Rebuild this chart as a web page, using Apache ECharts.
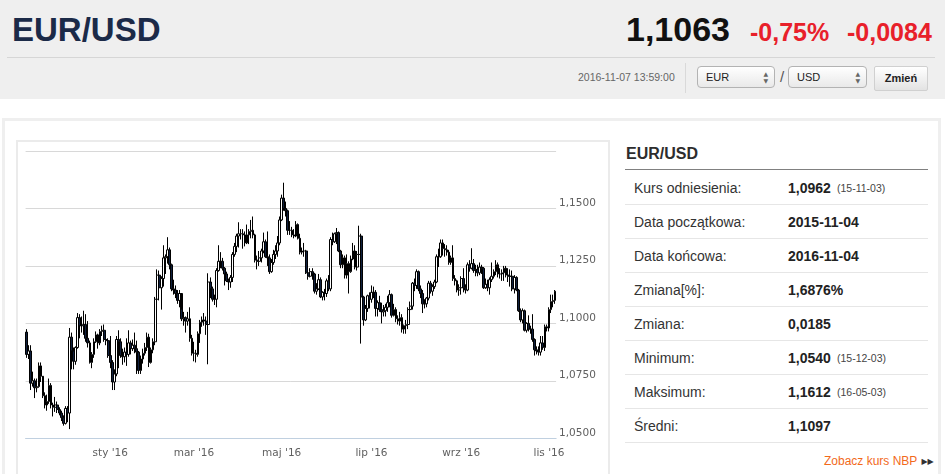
<!DOCTYPE html>
<html>
<head>
<meta charset="utf-8">
<title>EUR/USD</title>
<script src="https://cdn.jsdelivr.net/npm/echarts@6/dist/echarts.min.js"></script>
<style>
html, body { margin:0; padding:0; }
body { width:945px; height:474px; overflow:hidden; position:relative; background:#fff; font-family:"Liberation Sans", Arial, sans-serif; }
.abs { position:absolute; white-space:nowrap; }
.top { left:0; top:0; width:945px; height:99px; background:#efefef; }
.title { left:12px; top:13px; font-size:33px; line-height:33px; font-weight:bold; color:#1b2a48; }
.rate { left:626px; top:12px; font-size:34px; line-height:34px; font-weight:bold; color:#111; }
.chg { top:20px; font-size:25px; line-height:25px; font-weight:bold; color:#e8202a; }
.sep { left:7px; top:57px; width:928px; height:1px; background:#d6d6d6; }
.stamp { left:578px; top:72px; font-size:10.5px; line-height:11px; color:#666; }
.vsep { left:685px; top:63px; width:1px; height:30px; background:#d9d9d9; }
.sel { top:66px; height:22px; box-sizing:border-box; border:1px solid #b3b3b3; border-radius:4px;
       background:linear-gradient(#ffffff,#e9e9e9); font-size:11px; line-height:20px; padding-left:8px; color:#222; }
.sel .arr { position:absolute; right:6px; top:3px; font-family:"DejaVu Sans"; font-size:6px; line-height:7px; color:#666; }
.slash { left:780px; top:68px; font-size:15px; color:#555; }
.btn { left:874px; top:66px; width:54px; height:25px; box-sizing:border-box; border:1px solid #d0d0d0; border-radius:2px;
       background:linear-gradient(#ffffff,#e3e3e3); font-size:11px; line-height:23px; font-weight:bold; text-align:center; color:#222; }
.panel { left:2px; top:118px; width:939px; height:400px; box-sizing:border-box; border:3px solid #efefef; }
.cbox { left:16px; top:140px; width:594px; height:360px; box-sizing:border-box; border:2px solid #ebebeb; }
#chart { position:absolute; left:18px; top:142px; width:590px; height:332px; }
.h2 { left:626px; top:146px; font-size:16px; line-height:16px; font-weight:bold; color:#2d2d2d; }
.hline { left:625px; top:169px; width:303px; height:1px; background:#808080; }
#stats { position:absolute; left:625px; top:171px; width:303px; }
.row { position:relative; height:34px; box-sizing:border-box; border-bottom:1px solid #e6e6e6; padding-top:2px; line-height:31px; font-size:14px; color:#333; }
.row span { position:absolute; top:2px; }
.row .v { left:163px; font-weight:bold; color:#222; }
.row .d { left:212px; font-size:10.5px; color:#444; }
.nbp { left:824px; top:454px; font-size:12px; line-height:14px; color:#f26a1b; }
.nbp b { font-family:"DejaVu Sans"; font-size:8px; color:#333; margin-left:4px; vertical-align:1px; }
</style>
</head>
<body>
<div class="abs top"></div>
<div class="abs title">EUR/USD</div>
<div class="abs rate">1,1063</div>
<div class="abs chg" style="left:750px">-0,75%</div>
<div class="abs chg" style="left:847px">-0,0084</div>
<div class="abs sep"></div>
<div class="abs stamp">2016-11-07 13:59:00</div>
<div class="abs vsep"></div>
<div class="abs sel" style="left:697px;width:78px">EUR<span class="arr">▲<br>▼</span></div>
<div class="abs slash">/</div>
<div class="abs sel" style="left:788px;width:79px">USD<span class="arr">▲<br>▼</span></div>
<div class="abs btn">Zmień</div>

<div class="abs panel"></div>
<div class="abs cbox"></div>
<div id="chart"></div>

<div class="abs h2">EUR/USD</div>
<div class="abs hline"></div>
<div id="stats"></div>
<div class="abs nbp">Zobacz kurs NBP<b>▶▶</b></div>

<script>
// rows: [day, open, close, low, high]
const nov15 = [
  [4, 1.0962, 1.0865, 1.0850, 1.0975], [5, 1.0865, 1.0880, 1.0845, 1.0905], [6, 1.0880, 1.0740, 1.0710, 1.0905],
  [9, 1.0740, 1.0750, 1.0725, 1.0790], [10, 1.0750, 1.0720, 1.0675, 1.0760], [11, 1.0720, 1.0725, 1.0700, 1.0760],
  [12, 1.0725, 1.0815, 1.0720, 1.0830], [13, 1.0815, 1.0770, 1.0745, 1.0830], [16, 1.0770, 1.0685, 1.0675, 1.0735],
  [17, 1.0685, 1.0645, 1.0630, 1.0700], [18, 1.0645, 1.0660, 1.0620, 1.0690], [19, 1.0660, 1.0730, 1.0650, 1.0760],
  [20, 1.0730, 1.0645, 1.0630, 1.0740], [23, 1.0645, 1.0635, 1.0595, 1.0655], [24, 1.0635, 1.0645, 1.0615, 1.0680],
  [25, 1.0645, 1.0625, 1.0610, 1.0660], [26, 1.0625, 1.0610, 1.0600, 1.0635], [27, 1.0610, 1.0590, 1.0575, 1.0620],
  [30, 1.0590, 1.0565, 1.0555, 1.0600]
];
const dec15 = [
  [1, 1.0565, 1.0630, 1.0560, 1.0640], [2, 1.0630, 1.0610, 1.0570, 1.0640], [3, 1.0610, 1.0940, 1.0540, 1.0980],
  [4, 1.0940, 1.0880, 1.0800, 1.0960], [7, 1.0880, 1.0835, 1.0800, 1.0895], [8, 1.0835, 1.0895, 1.0820, 1.0900],
  [9, 1.0895, 1.1025, 1.0890, 1.1045], [10, 1.1025, 1.0990, 1.0935, 1.1040], [11, 1.0990, 1.0990, 1.0960, 1.1030],
  [14, 1.0990, 1.0995, 1.0950, 1.1055], [15, 1.0995, 1.0935, 1.0920, 1.1040], [16, 1.0935, 1.0915, 1.0895, 1.1010],
  [17, 1.0915, 1.0830, 1.0825, 1.0925], [18, 1.0830, 1.0865, 1.0805, 1.0875], [21, 1.0865, 1.0920, 1.0850, 1.0935],
  [22, 1.0920, 1.0950, 1.0915, 1.0965], [23, 1.0950, 1.0915, 1.0890, 1.0955], [24, 1.0915, 1.0965, 1.0905, 1.0975],
  [28, 1.0965, 1.0970, 1.0945, 1.0990], [29, 1.0970, 1.0930, 1.0920, 1.0995], [30, 1.0930, 1.0925, 1.0905, 1.0945],
  [31, 1.0925, 1.0860, 1.0850, 1.0935]
];
const jan16 = [
  [4, 1.0860, 1.0830, 1.0805, 1.0945], [5, 1.0830, 1.0745, 1.0710, 1.0840], [6, 1.0745, 1.0780, 1.0710, 1.0800],
  [7, 1.0780, 1.0930, 1.0770, 1.0945], [8, 1.0930, 1.0920, 1.0805, 1.0970], [11, 1.0920, 1.0860, 1.0850, 1.0935],
  [12, 1.0860, 1.0855, 1.0820, 1.0890], [13, 1.0855, 1.0875, 1.0830, 1.0895], [14, 1.0875, 1.0865, 1.0815, 1.0935],
  [15, 1.0865, 1.0915, 1.0855, 1.0970], [18, 1.0915, 1.0890, 1.0865, 1.0925], [19, 1.0890, 1.0905, 1.0880, 1.0930],
  [20, 1.0905, 1.0890, 1.0870, 1.0960], [21, 1.0890, 1.0875, 1.0780, 1.0925], [22, 1.0875, 1.0795, 1.0780, 1.0880],
  [25, 1.0795, 1.0845, 1.0780, 1.0860], [26, 1.0845, 1.0870, 1.0825, 1.0890], [27, 1.0870, 1.0895, 1.0860, 1.0915],
  [28, 1.0895, 1.0940, 1.0880, 1.0960], [29, 1.0940, 1.0830, 1.0810, 1.0955]
];
const feb16 = [
  [1, 1.0830, 1.0885, 1.0825, 1.0895], [2, 1.0885, 1.0920, 1.0870, 1.0935], [3, 1.0920, 1.1105, 1.0905, 1.1115],
  [4, 1.1105, 1.1210, 1.1080, 1.1235], [5, 1.1210, 1.1155, 1.1100, 1.1230], [8, 1.1155, 1.1195, 1.1060, 1.1205],
  [9, 1.1195, 1.1285, 1.1160, 1.1340], [10, 1.1285, 1.1290, 1.1215, 1.1300], [11, 1.1290, 1.1320, 1.1260, 1.1375],
  [12, 1.1320, 1.1255, 1.1235, 1.1330], [15, 1.1255, 1.1150, 1.1140, 1.1260], [16, 1.1150, 1.1145, 1.1125, 1.1190],
  [17, 1.1145, 1.1130, 1.1110, 1.1165], [18, 1.1130, 1.1100, 1.1085, 1.1145], [19, 1.1100, 1.1130, 1.1070, 1.1145],
  [22, 1.1130, 1.1020, 1.1010, 1.1060], [23, 1.1020, 1.1025, 1.0990, 1.1050], [24, 1.1025, 1.1010, 1.0960, 1.1030],
  [25, 1.1010, 1.1020, 1.0990, 1.1050], [26, 1.1020, 1.0935, 1.0920, 1.1070], [29, 1.0935, 1.0870, 1.0860, 1.0950]
];
const mar16 = [
  [1, 1.0870, 1.0870, 1.0835, 1.0920], [2, 1.0870, 1.0865, 1.0830, 1.0885], [3, 1.0865, 1.0955, 1.0855, 1.0965],
  [4, 1.0955, 1.1005, 1.0915, 1.1015], [7, 1.1005, 1.1015, 1.0985, 1.1030], [8, 1.1015, 1.1010, 1.0990, 1.1045],
  [9, 1.1010, 1.0995, 1.0950, 1.1030], [10, 1.0995, 1.1180, 1.0822, 1.1218], [11, 1.1180, 1.1150, 1.1110, 1.1200],
  [14, 1.1150, 1.1105, 1.1095, 1.1160], [15, 1.1105, 1.1105, 1.1080, 1.1125], [16, 1.1105, 1.1230, 1.1070, 1.1240],
  [17, 1.1230, 1.1270, 1.1225, 1.1340], [18, 1.1270, 1.1270, 1.1240, 1.1310], [21, 1.1270, 1.1240, 1.1230, 1.1285],
  [22, 1.1240, 1.1215, 1.1165, 1.1245], [23, 1.1215, 1.1185, 1.1180, 1.1225], [24, 1.1185, 1.1180, 1.1145, 1.1195],
  [28, 1.1180, 1.1200, 1.1155, 1.1210], [29, 1.1200, 1.1300, 1.1180, 1.1310], [30, 1.1300, 1.1335, 1.1290, 1.1350],
  [31, 1.1335, 1.1380, 1.1310, 1.1390]
];
const apr16 = [
  [1, 1.1380, 1.1390, 1.1330, 1.1440], [4, 1.1390, 1.1390, 1.1365, 1.1410], [5, 1.1390, 1.1385, 1.1325, 1.1410],
  [6, 1.1385, 1.1350, 1.1335, 1.1400], [7, 1.1350, 1.1385, 1.1345, 1.1430], [8, 1.1385, 1.1400, 1.1345, 1.1410],
  [11, 1.1400, 1.1405, 1.1370, 1.1450], [12, 1.1405, 1.1385, 1.1370, 1.1465], [13, 1.1385, 1.1275, 1.1265, 1.1390],
  [14, 1.1275, 1.1270, 1.1235, 1.1295], [15, 1.1270, 1.1285, 1.1250, 1.1315], [18, 1.1285, 1.1315, 1.1265, 1.1325],
  [19, 1.1315, 1.1355, 1.1305, 1.1395], [20, 1.1355, 1.1290, 1.1285, 1.1365], [21, 1.1290, 1.1285, 1.1250, 1.1400],
  [22, 1.1285, 1.1225, 1.1215, 1.1300], [25, 1.1225, 1.1265, 1.1220, 1.1280], [26, 1.1265, 1.1300, 1.1255, 1.1320],
  [27, 1.1300, 1.1315, 1.1280, 1.1340], [28, 1.1315, 1.1350, 1.1290, 1.1380], [29, 1.1350, 1.1450, 1.1340, 1.1465]
];
const may16 = [
  [2, 1.1450, 1.1545, 1.1445, 1.1560], [3, 1.1545, 1.1500, 1.1490, 1.1612], [4, 1.1500, 1.1490, 1.1465, 1.1530],
  [5, 1.1490, 1.1405, 1.1385, 1.1495], [6, 1.1405, 1.1405, 1.1385, 1.1445], [9, 1.1405, 1.1385, 1.1375, 1.1420],
  [10, 1.1385, 1.1380, 1.1370, 1.1410], [11, 1.1380, 1.1430, 1.1375, 1.1445], [12, 1.1430, 1.1370, 1.1365, 1.1435],
  [13, 1.1370, 1.1310, 1.1300, 1.1390], [16, 1.1310, 1.1315, 1.1300, 1.1330], [17, 1.1315, 1.1315, 1.1290, 1.1350],
  [18, 1.1315, 1.1220, 1.1215, 1.1320], [19, 1.1220, 1.1205, 1.1190, 1.1245], [20, 1.1205, 1.1225, 1.1200, 1.1240],
  [23, 1.1225, 1.1215, 1.1190, 1.1240], [24, 1.1215, 1.1140, 1.1130, 1.1220], [25, 1.1140, 1.1150, 1.1125, 1.1175],
  [26, 1.1150, 1.1190, 1.1145, 1.1215], [27, 1.1190, 1.1115, 1.1110, 1.1200], [30, 1.1115, 1.1135, 1.1100, 1.1140],
  [31, 1.1135, 1.1130, 1.1100, 1.1150]
];
const jun16 = [
  [1, 1.1130, 1.1185, 1.1115, 1.1195], [2, 1.1185, 1.1150, 1.1140, 1.1210], [3, 1.1150, 1.1365, 1.1140, 1.1375],
  [6, 1.1365, 1.1355, 1.1340, 1.1395], [7, 1.1355, 1.1390, 1.1350, 1.1395], [8, 1.1390, 1.1395, 1.1345, 1.1415],
  [9, 1.1395, 1.1315, 1.1310, 1.1400], [10, 1.1315, 1.1255, 1.1240, 1.1320], [13, 1.1255, 1.1285, 1.1240, 1.1300],
  [14, 1.1285, 1.1210, 1.1195, 1.1295], [15, 1.1210, 1.1260, 1.1195, 1.1300], [16, 1.1260, 1.1225, 1.1130, 1.1270],
  [17, 1.1225, 1.1280, 1.1220, 1.1295], [20, 1.1280, 1.1315, 1.1275, 1.1350], [21, 1.1315, 1.1245, 1.1235, 1.1340],
  [22, 1.1245, 1.1300, 1.1230, 1.1315], [23, 1.1300, 1.1380, 1.1285, 1.1425], [24, 1.1380, 1.1115, 1.0912, 1.1390],
  [27, 1.1115, 1.1015, 1.0990, 1.1120], [28, 1.1015, 1.1065, 1.1010, 1.1080], [29, 1.1065, 1.1120, 1.1050, 1.1125],
  [30, 1.1120, 1.1105, 1.1065, 1.1135]
];
const jul16 = [
  [1, 1.1105, 1.1135, 1.1090, 1.1165], [4, 1.1135, 1.1135, 1.1110, 1.1160], [5, 1.1135, 1.1065, 1.1030, 1.1145],
  [6, 1.1065, 1.1090, 1.1030, 1.1100], [7, 1.1090, 1.1060, 1.1050, 1.1120], [8, 1.1060, 1.1050, 1.1000, 1.1090],
  [11, 1.1050, 1.1055, 1.1030, 1.1080], [12, 1.1055, 1.1070, 1.1030, 1.1085], [13, 1.1070, 1.1090, 1.1050, 1.1120],
  [14, 1.1090, 1.1125, 1.1070, 1.1145], [15, 1.1125, 1.1035, 1.1025, 1.1130], [18, 1.1035, 1.1060, 1.1030, 1.1085],
  [19, 1.1060, 1.1020, 1.1005, 1.1070], [20, 1.1020, 1.1010, 1.0995, 1.1035], [21, 1.1010, 1.1025, 1.0990, 1.1050],
  [22, 1.1025, 1.0975, 1.0960, 1.1040], [25, 1.0975, 1.0990, 1.0955, 1.0995], [26, 1.0990, 1.0995, 1.0955, 1.1015],
  [27, 1.0995, 1.1060, 1.0975, 1.1070], [28, 1.1060, 1.1075, 1.1050, 1.1095], [29, 1.1075, 1.1175, 1.1060, 1.1180]
];
const aug16 = [
  [1, 1.1175, 1.1165, 1.1140, 1.1195], [2, 1.1165, 1.1225, 1.1150, 1.1235], [3, 1.1225, 1.1150, 1.1140, 1.1230],
  [4, 1.1150, 1.1130, 1.1110, 1.1165], [5, 1.1130, 1.1085, 1.1045, 1.1145], [8, 1.1085, 1.1085, 1.1065, 1.1105],
  [9, 1.1085, 1.1110, 1.1070, 1.1115], [10, 1.1110, 1.1175, 1.1100, 1.1185], [11, 1.1175, 1.1140, 1.1130, 1.1185],
  [12, 1.1140, 1.1160, 1.1120, 1.1170], [15, 1.1160, 1.1180, 1.1150, 1.1190], [16, 1.1180, 1.1290, 1.1175, 1.1300],
  [17, 1.1290, 1.1290, 1.1245, 1.1325], [18, 1.1290, 1.1350, 1.1285, 1.1365], [19, 1.1350, 1.1325, 1.1295, 1.1365],
  [22, 1.1325, 1.1320, 1.1290, 1.1345], [23, 1.1320, 1.1310, 1.1295, 1.1340], [24, 1.1310, 1.1265, 1.1255, 1.1320],
  [25, 1.1265, 1.1285, 1.1255, 1.1295], [26, 1.1285, 1.1195, 1.1185, 1.1340], [29, 1.1195, 1.1185, 1.1165, 1.1210],
  [30, 1.1185, 1.1145, 1.1135, 1.1190], [31, 1.1145, 1.1155, 1.1120, 1.1170]
];
const sep16 = [
  [1, 1.1155, 1.1195, 1.1125, 1.1205], [2, 1.1195, 1.1155, 1.1135, 1.1240], [5, 1.1155, 1.1145, 1.1130, 1.1170],
  [6, 1.1145, 1.1255, 1.1140, 1.1265], [7, 1.1255, 1.1240, 1.1225, 1.1275], [8, 1.1240, 1.1260, 1.1235, 1.1327],
  [9, 1.1260, 1.1230, 1.1220, 1.1280], [12, 1.1230, 1.1235, 1.1205, 1.1255], [13, 1.1235, 1.1220, 1.1205, 1.1255],
  [14, 1.1220, 1.1245, 1.1210, 1.1265], [15, 1.1245, 1.1240, 1.1215, 1.1255], [16, 1.1240, 1.1155, 1.1150, 1.1245],
  [19, 1.1155, 1.1170, 1.1150, 1.1195], [20, 1.1170, 1.1155, 1.1140, 1.1190], [21, 1.1155, 1.1190, 1.1125, 1.1200],
  [22, 1.1190, 1.1205, 1.1180, 1.1265], [23, 1.1205, 1.1225, 1.1195, 1.1235], [26, 1.1225, 1.1255, 1.1210, 1.1275],
  [27, 1.1255, 1.1215, 1.1200, 1.1265], [28, 1.1215, 1.1215, 1.1195, 1.1240], [29, 1.1215, 1.1220, 1.1185, 1.1235],
  [30, 1.1220, 1.1240, 1.1185, 1.1250]
];
const oct16 = [
  [3, 1.1240, 1.1210, 1.1200, 1.1250], [4, 1.1210, 1.1205, 1.1180, 1.1240], [5, 1.1205, 1.1205, 1.1160, 1.1235],
  [6, 1.1205, 1.1150, 1.1140, 1.1230], [7, 1.1150, 1.1200, 1.1130, 1.1210], [10, 1.1200, 1.1145, 1.1140, 1.1205],
  [11, 1.1145, 1.1055, 1.1050, 1.1150], [12, 1.1055, 1.1015, 1.1005, 1.1065], [13, 1.1015, 1.1055, 1.1000, 1.1065],
  [14, 1.1055, 1.0970, 1.0965, 1.1060], [17, 1.0970, 1.1000, 1.0960, 1.1005], [18, 1.1000, 1.0975, 1.0965, 1.1035],
  [19, 1.0975, 1.0975, 1.0955, 1.0990], [20, 1.0975, 1.0930, 1.0920, 1.1040], [21, 1.0930, 1.0885, 1.0860, 1.0935],
  [24, 1.0885, 1.0880, 1.0865, 1.0900], [25, 1.0880, 1.0875, 1.0860, 1.0900], [26, 1.0875, 1.0915, 1.0860, 1.0945],
  [27, 1.0915, 1.0895, 1.0885, 1.0945], [28, 1.0895, 1.0985, 1.0880, 1.0995], [31, 1.0985, 1.0980, 1.0965, 1.0995]
];
const nov16 = [
  [1, 1.0980, 1.1060, 1.0965, 1.1070], [2, 1.1060, 1.1095, 1.1045, 1.1125], [3, 1.1095, 1.1100, 1.1070, 1.1125],
  [4, 1.1100, 1.1140, 1.1085, 1.1145]
];

const monthKeys = ['2015-11', '2015-12', '2016-01', '2016-02', '2016-03', '2016-04',
                   '2016-05', '2016-06', '2016-07', '2016-08', '2016-09', '2016-10', '2016-11'];
const monthRows = [nov15, dec15, jan16, feb16, mar16, apr16, may16, jun16, jul16, aug16, sep16, oct16, nov16];

const tickDates = ['2016-01-04', '2016-03-01', '2016-05-02', '2016-07-01', '2016-09-01', '2016-11-01'];
const tickLabels = ["sty '16", "mar '16", "maj '16", "lip '16", "wrz '16", "lis '16"];

const statLabels = ['Kurs odniesienia:', 'Data początkowa:', 'Data końcowa:', 'Zmiana[%]:', 'Zmiana:', 'Minimum:', 'Maksimum:', 'Średni:'];
const statValues = ['1,0962', '2015-11-04', '2016-11-04', '1,6876%', '0,0185', '1,0540', '1,1612', '1,1097'];
const statDates = ['(15-11-03)', '', '', '', '', '(15-12-03)', '(16-05-03)', ''];

// build category dates + [open, close, low, high]
const dates = [];
const ohlc = [];
monthKeys.forEach((m, k) => {
  monthRows[k].forEach(r => {
    dates.push(m + '-' + String(r[0]).padStart(2, '0'));
    ohlc.push([r[1], r[2], r[3], r[4]]);
  });
});

let html = '';
statLabels.forEach((l, i) => {
  html += '<div class="row"><span style="left:9px">' + l + '</span><span class="v">' + statValues[i] + '</span>' +
          (statDates[i] ? '<span class="d">' + statDates[i] + '</span>' : '') + '</div>';
});
document.getElementById('stats').innerHTML = html;

const chart = echarts.init(document.getElementById('chart'));
const isTick = (i, v) => tickDates.indexOf(v) >= 0;

chart.setOption({
  animation: false,
  backgroundColor: '#fff',
  grid: { left: 7.6, top: 9, width: 530.5, height: 287.3 },
  xAxis: {
    type: 'category',
    data: dates,
    boundaryGap: true,
    axisLine: { lineStyle: { color: '#c0d0e0', width: 1 } },
    axisTick: { alignWithLabel: true, interval: isTick, length: 8, lineStyle: { color: '#c0d0e0' } },
    axisLabel: {
      interval: isTick,
      formatter: v => tickLabels[tickDates.indexOf(v)] || '',
      color: '#606060', fontFamily: 'DejaVu Sans', fontSize: 10.5, margin: 9
    },
    splitLine: { show: false }
  },
  yAxis: {
    type: 'value',
    position: 'right',
    min: 1.05, max: 1.175, interval: 0.025,
    axisLine: { show: false },
    axisTick: { show: false },
    splitLine: { lineStyle: { color: '#d8d8d8' } },
    axisLabel: {
      formatter: v => v > 1.17 ? '' : v.toFixed(4).replace('.', ','),
      color: '#606060', fontFamily: 'DejaVu Sans', fontSize: 10.5, margin: 3, verticalAlign: 'bottom'
    }
  },
  series: [{
    type: 'candlestick',
    data: ohlc,
    barWidth: 2.2,
    clip: false,
    silent: true,
    itemStyle: { color: '#ffffff', color0: '#0f1f3d', borderColor: '#000000', borderColor0: '#000000', borderWidth: 1 }
  }]
});
</script>
</body>
</html>
